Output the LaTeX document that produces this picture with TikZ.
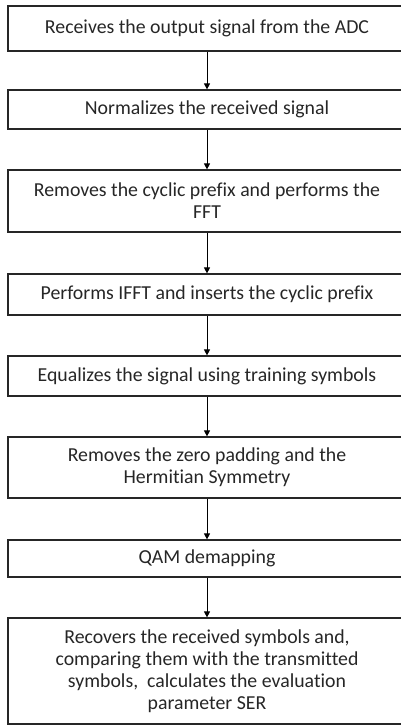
\documentclass[tikz,border=0pt]{standalone}
\usepackage{fontspec}
\setmainfont{Carlito}[Ligatures={NoCommon}]
\usetikzlibrary{arrows.meta}
\definecolor{txt}{HTML}{262626}
\begin{document}
\begin{tikzpicture}[x=1pt,y=-1pt,
  stepbox/.style={draw=black!85,line width=1.2pt,minimum width=398pt,inner sep=0pt,
    align=center,font=\fontsize{19.8}{22}\selectfont,text=txt},
  conn/.style={draw=black,line width=0.9pt,-{Triangle[length=6pt,width=6pt]}}]
\useasboundingbox (0,0) rectangle (401,726);
\node[stepbox,minimum height=45pt] (b1) at (207,28.5) {Receives the output signal from the ADC};
\node[stepbox,minimum height=39pt] (b2) at (207,109.5) {Normalizes the received signal};
\node[stepbox,minimum height=62pt] (b3) at (207,201) {Removes the cyclic prefix and performs the\\FFT};
\node[stepbox,minimum height=41pt] (b4) at (207,294.5) {Performs IFFT and inserts the cyclic prefix};
\node[stepbox,minimum height=40pt] (b5) at (207,376) {Equalizes the signal using training symbols};
\node[stepbox,minimum height=61pt] (b6) at (207,467.5) {Removes the zero padding and the\\Hermitian Symmetry};
\node[stepbox,minimum height=37pt] (b7) at (207,558.5) {QAM demapping};
\node[stepbox,minimum height=106pt] (b8) at (207,671) {Recovers the received symbols and,\\comparing them with the transmitted\\symbols,\ \ calculates the evaluation\\parameter SER};
\draw[conn] (b1) -- (b2);
\draw[conn] (b2) -- (b3);
\draw[conn] (b3) -- (b4);
\draw[conn] (b4) -- (b5);
\draw[conn] (b5) -- (b6);
\draw[conn] (b6) -- (b7);
\draw[conn] (b7) -- (b8);
\end{tikzpicture}
\end{document}
